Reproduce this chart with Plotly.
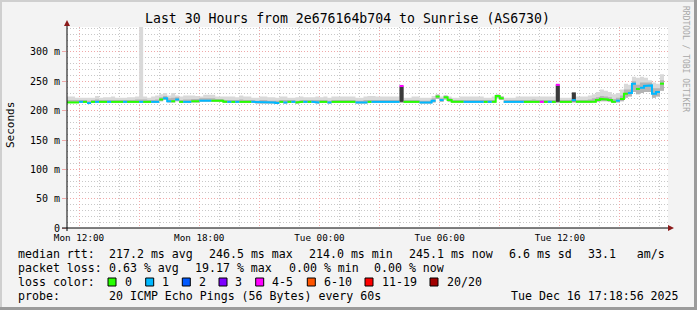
import plotly.graph_objects as go
from datetime import datetime, timedelta

# ---------------- data ----------------
T0 = datetime(2025, 12, 15, 11, 24)   # left edge of the plot
STEP_MIN = 12                          # consolidated step (minutes)

median_ms = [
    214, 214, 214, 215, 215, 213, 215, 215, 215, 215,
    215, 215, 215, 215, 215, 215, 215, 215, 215, 215,
    215, 215, 215, 219, 221, 216, 216, 219, 215, 215,
    215, 216, 216, 217, 217, 217, 217, 217, 217, 215,
    215, 215, 215, 215, 215, 215, 215, 214, 214, 214,
    214, 214, 213, 215, 214, 215, 215, 214, 215, 215,
    215, 215, 214, 215, 215, 214, 215, 215, 215, 215,
    215, 215, 214, 214, 214, 215, 215, 215, 215, 215,
    215, 215, 215, 242, 215, 215, 215, 215, 214, 214,
    214, 217, 224, 218, 223, 218, 215, 215, 215, 215,
    215, 215, 215, 215, 215, 215, 215, 225, 221, 215,
    215, 215, 215, 215, 215, 215, 216, 215, 215, 215,
    215, 215, 244, 215, 215, 215, 218, 215, 215, 215,
    215, 215, 218, 220, 219, 218, 215, 217, 220, 229,
    230, 246, 237, 239, 242, 243, 229, 232, 246,
]

loss_count = [
    0, 0, 0, 1, 0, 1, 0, 1, 0, 0,
    1, 0, 0, 0, 1, 0, 0, 0, 1, 0,
    0, 1, 1, 0, 1, 1, 0, 1, 0, 1,
    1, 0, 0, 1, 1, 1, 0, 0, 0, 0,
    1, 0, 1, 0, 0, 0, 1, 1, 1, 1,
    1, 1, 1, 0, 1, 0, 1, 0, 0, 1,
    0, 1, 1, 0, 0, 1, 0, 0, 0, 0,
    0, 0, 1, 1, 1, 0, 1, 1, 1, 1,
    1, 1, 1, 4, 0, 0, 0, 0, 1, 1,
    1, 1, 0, 1, 0, 0, 0, 0, 0, 1,
    1, 1, 1, 1, 0, 1, 0, 0, 0, 1,
    1, 1, 1, 1, 0, 0, 0, 0, 4, 0,
    1, 0, 4, 0, 0, 0, 1, 0, 0, 0,
    0, 0, 0, 0, 0, 0, 0, 1, 0, 0,
    1, 1, 0, 1, 1, 1, 1, 1, 0,
]

smoke_hi_ms = [
    224, 224, 222, 222, 222, 222, 222, 225, 222, 223,
    223, 224, 222, 222, 222, 223, 223, 224, 400, 224,
    222, 224, 226, 228, 230, 226, 230, 226, 224, 226,
    226, 226, 225, 224, 227, 227, 227, 224, 224, 224,
    224, 224, 223, 226, 224, 224, 222, 222, 224, 224,
    223, 223, 222, 224, 224, 222, 222, 223, 224, 223,
    223, 223, 224, 223, 224, 222, 224, 224, 224, 224,
    224, 224, 222, 222, 224, 225, 225, 224, 224, 224,
    224, 224, 224, 244, 222, 222, 224, 224, 222, 222,
    222, 225, 228, 224, 226, 224, 222, 222, 224, 224,
    224, 224, 224, 224, 222, 222, 224, 228, 225, 222,
    222, 222, 224, 224, 224, 224, 224, 224, 224, 224,
    224, 224, 246, 222, 222, 222, 232, 224, 224, 224,
    226, 228, 232, 236, 234, 232, 228, 230, 236, 246,
    244, 258, 256, 258, 256, 252, 248, 246, 262,
]

core_hi_ms = [
    218, 218, 218, 218, 218, 217, 218, 219, 218, 218,
    218, 218, 218, 218, 218, 218, 218, 219, 219, 219,
    218, 218, 219, 223, 225, 221, 222, 223, 218, 219,
    219, 220, 220, 221, 221, 221, 221, 220, 220, 218,
    218, 218, 218, 219, 218, 218, 218, 217, 218, 218,
    217, 217, 217, 218, 218, 218, 218, 217, 218, 218,
    218, 218, 218, 218, 218, 217, 218, 218, 218, 218,
    218, 218, 217, 217, 218, 218, 218, 218, 218, 218,
    218, 218, 218, 242, 218, 218, 218, 218, 217, 217,
    217, 221, 227, 221, 226, 221, 218, 218, 218, 218,
    218, 218, 218, 218, 218, 218, 218, 227, 224, 218,
    218, 218, 218, 218, 218, 218, 219, 218, 218, 218,
    218, 218, 244, 218, 218, 218, 229, 218, 218, 218,
    219, 221, 223, 225, 224, 223, 220, 222, 226, 236,
    236, 250, 244, 248, 248, 248, 238, 238, 252,
]

smoke_lo_ms = [
    213, 213, 213, 213, 213, 212, 213, 213, 213, 213,
    213, 213, 213, 213, 213, 213, 213, 213, 213, 213,
    213, 213, 213, 216, 218, 214, 214, 216, 213, 213,
    213, 214, 214, 215, 215, 215, 215, 215, 215, 213,
    213, 213, 213, 213, 213, 213, 213, 212, 212, 212,
    212, 212, 212, 213, 212, 213, 213, 212, 213, 213,
    213, 213, 212, 213, 213, 212, 213, 213, 213, 213,
    213, 213, 212, 212, 212, 213, 213, 213, 213, 213,
    213, 213, 213, 213, 213, 213, 213, 213, 212, 212,
    212, 214, 220, 215, 219, 215, 213, 213, 213, 213,
    213, 213, 213, 213, 213, 213, 213, 221, 218, 213,
    213, 213, 213, 213, 213, 213, 214, 213, 213, 213,
    213, 213, 213, 213, 213, 213, 214, 213, 213, 213,
    213, 214, 215, 216, 216, 215, 213, 214, 216, 222,
    224, 232, 228, 230, 232, 232, 222, 224, 234,
]

dark_steps = [83, 122, 126]
dark_lo_ms = [215, 215, 216]
dark_hi_ms = [241, 243, 231]

loss_buckets = [
    ("0", 0, 0, "#26ff00"),
    ("1", 1, 1, "#00b8ff"),
    ("2", 2, 2, "#0059ff"),
    ("3", 3, 3, "#7e00ff"),
    ("4-5", 4, 5, "#ff00ff"),
    ("6-10", 6, 10, "#ff5500"),
    ("11-19", 11, 19, "#ff0000"),
    ("20/20", 20, 20, "#a10000"),
]

title_text = "Last 30 Hours from 2e676164b704 to Sunrise (AS6730)"
y_tick_vals = [0, 50, 100, 150, 200, 250, 300]
y_tick_text = ["0", "50 m", "100 m", "150 m", "200 m", "250 m", "300 m"]
# legend rows: (text, left x in px)
rtt_tokens = [("median rtt:", 16), ("217.2 ms avg", 107), ("246.5 ms max", 207),
              ("214.0 ms min", 307), ("245.1 ms now", 407), ("6.6 ms sd", 507),
              ("33.1   am/s", 586)]
loss_tokens = [("packet loss:", 16), ("0.63 % avg", 107), ("19.17 % max", 193),
               ("0.00 % min", 286.5), ("0.00 % now", 372.3)]
probe_tokens = [("probe:", 16), ("20 ICMP Echo Pings (56 Bytes) every 60s", 107)]
stamp_text = "Tue Dec 16 17:18:56 2025"

# ---------------- geometry ----------------
W, H = 697, 310
ML, MR, MT, MB = 67, 29, 27, 82
PW, PH = W - ML - MR, H - MT - MB
Y_MAX = 342.6
MONO = "DejaVu Sans Mono"
TXT = 11.6


def px(x):
    return (x - ML) / PW


def py(y):
    return (H - MB - y) / PH


N = len(median_ms)
edges = [T0 + timedelta(minutes=STEP_MIN * i) for i in range(N + 1)]

fig = go.Figure()


def band(lo, hi, color):
    fig.add_trace(go.Scatter(x=edges, y=lo + [lo[-1]], mode="lines",
                             line=dict(width=0, shape="hv"), hoverinfo="skip",
                             showlegend=False))
    fig.add_trace(go.Scatter(x=edges, y=hi + [hi[-1]], mode="lines",
                             line=dict(width=0, shape="hv"), fill="tonexty",
                             fillcolor=color, hoverinfo="skip", showlegend=False))


band(smoke_lo_ms, smoke_hi_ms, "#d9d9d9")
band(smoke_lo_ms, core_hi_ms, "#b4b4b4")

for k, i in enumerate(dark_steps):
    fig.add_trace(go.Scatter(x=[edges[i], edges[i + 1], edges[i + 1], edges[i], edges[i]],
                             y=[dark_lo_ms[k], dark_lo_ms[k], dark_hi_ms[k], dark_hi_ms[k], dark_lo_ms[k]],
                             mode="lines", fill="toself", fillcolor="#3a3a3a",
                             line=dict(width=0), hoverinfo="skip", showlegend=False))

for name, lo, hi, col in loss_buckets:
    xs, ys = [], []
    prev = False
    for i in range(N):
        ok = lo <= loss_count[i] <= hi
        if ok:
            xs.append(edges[i]); ys.append(median_ms[i])
            xs.append(edges[i + 1]); ys.append(median_ms[i])
        elif prev:
            xs.append(None); ys.append(None)
        prev = ok
    if xs:
        fig.add_trace(go.Scatter(x=xs, y=ys, mode="lines",
                                 line=dict(color=col, width=2),
                                 hoverinfo="skip", showlegend=False))

# ---------------- layout ----------------
shapes = [
    dict(type="rect", xref="paper", yref="paper", x0=px(0), x1=px(W), y0=py(0), y1=py(2),
         fillcolor="#cfcfcf", line=dict(width=0), layer="above"),
    dict(type="rect", xref="paper", yref="paper", x0=px(0), x1=px(2), y0=py(0), y1=py(H),
         fillcolor="#cfcfcf", line=dict(width=0), layer="above"),
    dict(type="rect", xref="paper", yref="paper", x0=px(0), x1=px(W), y0=py(H - 3), y1=py(H),
         fillcolor="#9b9b9b", line=dict(width=0), layer="above"),
    dict(type="rect", xref="paper", yref="paper", x0=px(W - 3), x1=px(W), y0=py(0), y1=py(H),
         fillcolor="#9b9b9b", line=dict(width=0), layer="above"),
    dict(type="line", xref="paper", yref="paper", x0=px(67), x1=px(67), y0=py(231), y1=py(22),
         line=dict(color="#000000", width=1), layer="above"),
    dict(type="line", xref="paper", yref="paper", x0=px(62), x1=px(670), y0=py(228), y1=py(228),
         line=dict(color="#000000", width=1), layer="above"),
    dict(type="path", xref="paper", yref="paper",
         path=f"M {px(64)},{py(26)} L {px(70)},{py(26)} L {px(67)},{py(20)} Z",
         fillcolor="#8b1a1a", line=dict(width=0), layer="above"),
    dict(type="path", xref="paper", yref="paper",
         path=f"M {px(668)},{py(225)} L {px(668)},{py(231)} L {px(674)},{py(228)} Z",
         fillcolor="#8b1a1a", line=dict(width=0), layer="above"),
]


def label(text, x, y, anchor="left", size=TXT, color="#000", angle=0):
    return dict(text=text.replace(" ", "&nbsp;"), x=px(x), y=py(y), xref="paper", yref="paper",
                showarrow=False, xanchor=anchor, yanchor="middle", textangle=angle,
                font=dict(family=MONO, size=size, color=color))


annotations = [
    label(title_text, 347, 19, "center", 13.2),
    label("Seconds", 10, 125, "center", 11, angle=-90),
    label("RRDTOOL / TOBI OETIKER", 686, 59, "center", 8, "#a8a8a8", angle=90),
]
for t, x in rtt_tokens:
    annotations.append(label(t, x, 254))
for t, x in loss_tokens:
    annotations.append(label(t, x, 268))
annotations.append(label("loss color:", 16, 282))
box_x = [108, 145.7, 182.3, 219, 255.7, 307.3, 365, 430]
for k, (name, lo, hi, col) in enumerate(loss_buckets):
    bx = box_x[k]
    shapes.append(dict(type="rect", xref="paper", yref="paper", x0=px(bx), x1=px(bx + 8),
                       y0=py(286), y1=py(278), fillcolor=col,
                       line=dict(color="#000", width=1), layer="above"))
    annotations.append(label(name, bx + 14.5, 282))
for t, x in probe_tokens:
    annotations.append(label(t, x, 296))
annotations.append(label(stamp_text, 681, 296, "right"))

fig.update_layout(
    width=W, height=H, margin=dict(l=ML, r=MR, t=MT, b=MB, pad=0),
    paper_bgcolor="#f3f3f3", plot_bgcolor="#ffffff",
    showlegend=False, shapes=shapes, annotations=annotations,
    font=dict(family=MONO, size=10, color="#000"),
    xaxis=dict(type="date", range=[T0, T0 + timedelta(hours=30)],
               tick0="2025-12-15 12:00", dtick=3 * 3600000, ticklabelstep=2,
               tickformat="%a %H:%M", showgrid=True, gridcolor="#f0a8a8",
               griddash="1px,2px", gridwidth=1, zeroline=False, showline=False,
               ticks="outside", ticklen=1, tickcolor="rgba(0,0,0,0)",
               tickfont=dict(family=MONO, size=9.3, color="#000"),
               minor=dict(dtick=3600000, tick0="2025-12-15 12:00", showgrid=True,
                          gridcolor="#c8c8c8", griddash="1px,2px", gridwidth=1),
               fixedrange=True),
    yaxis=dict(range=[0, Y_MAX], tickmode="array", tickvals=y_tick_vals, ticktext=y_tick_text,
               showgrid=True, gridcolor="#f0a8a8", griddash="1px,2px", gridwidth=1,
               zeroline=False, showline=False, ticks="outside", ticklen=4,
               tickcolor="#f0a8a8", tickfont=dict(family=MONO, size=10, color="#000"),
               minor=dict(tickmode="linear", tick0=0, dtick=10, showgrid=True,
                          gridcolor="#c8c8c8", griddash="1px,2px", gridwidth=1),
               fixedrange=True),
)

fig.write_html("out.html")
